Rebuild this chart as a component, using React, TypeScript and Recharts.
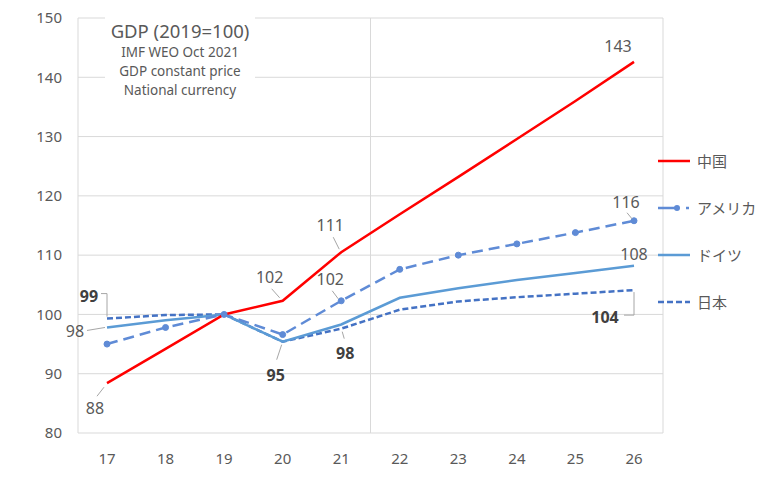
import { LineChart, Line, XAxis, YAxis, CartesianGrid, LabelList } from 'recharts';

// ── Data ───────────────────────────────────────────

const years = ['17', '18', '19', '20', '21', '22', '23', '24', '25', '26'];
const china = [88.4, 94.2, 100, 102.3, 110.5, 116.9, 123.2, 129.6, 136.0, 142.6];
const america = [95.0, 97.8, 100, 96.6, 102.3, 107.6, 110.0, 111.9, 113.8, 115.8];
const germany = [97.8, 99.0, 100, 95.4, 98.3, 102.8, 104.4, 105.8, 107.0, 108.2];
const japan = [99.3, 99.9, 100, 95.4, 97.6, 100.8, 102.2, 102.9, 103.5, 104.1];
const yTicks = [80, 90, 100, 110, 120, 130, 140, 150];

const seriesNames = ['中国', 'アメリカ', 'ドイツ', '日本'];
const titleLines = ['GDP (2019=100)', 'IMF WEO Oct 2021', 'GDP constant price', 'National currency'];

const data = years.map((y, i) => ({
  year: y,
  china: china[i],
  america: america[i],
  germany: germany[i],
  japan: japan[i],
}));

// ── Styles ─────────────────────────────────────────

const FONT = "'Noto Sans', 'Noto Sans CJK JP', sans-serif";
const TEXT = '#595959';
const GRID = '#d9d9d9';
const RED = '#ff0000';
const US = '#5f8bd6';
const DE = '#5b9bd5';
const JP = '#4472c4';

// callout: text centre offset from point, leader polyline offsets
type Callout = { dx: number; dy: number; leader?: number[][] };

const chinaCallouts: Record<number, Callout> = {
  0: { dx: -12, dy: 25, leader: [[-3, 4], [-10, 13]] },
  3: { dx: -13, dy: -24, leader: [[-3, -3], [-11, -12]] },
  4: { dx: -11, dy: -27, leader: [[-2, -3], [-8, -15]] },
  9: { dx: -16, dy: -16 },
};
const americaCallouts: Record<number, Callout> = {
  4: { dx: -11, dy: -22, leader: [[-3, -2], [-9, -10]] },
  9: { dx: -8, dy: -19, leader: [[-2, -2], [-7, -8]] },
};
const germanyCallouts: Record<number, Callout> = {
  0: { dx: -32, dy: 4, leader: [[-2, 0], [-20, 3]] },
  9: { dx: 0, dy: -12 },
};
const japanCallouts: Record<number, Callout> = {
  0: { dx: -18, dy: -23, leader: [[-6, -25], [0, -25], [0, -2]] },
  3: { dx: -7, dy: 33, leader: [[-1, 3], [-6, 18]] },
  4: { dx: 4, dy: 24, leader: [[1, 3], [3, 10]] },
  9: { dx: -29, dy: 27, leader: [[-10, 25], [0, 25], [0, 2]] },
};

function renderCallout(props: any, callouts: Record<number, Callout>, bold: boolean) {
  const { x, y, index, value } = props;
  const c = callouts[index];
  if (!c || x == null || y == null) return null;
  const pts = c.leader?.map(([px, py]) => `${x + px},${y + py}`).join(' ');
  return (
    <g key={`c-${index}`}>
      {pts && <polyline points={pts} fill="none" stroke="#a6a6a6" strokeWidth={1} />}
      <text
        x={x + c.dx}
        y={y + c.dy}
        textAnchor="middle"
        dominantBaseline="central"
        fontFamily={FONT}
        fontSize={16}
        fontWeight={bold ? 700 : 400}
        fill={bold ? '#404040' : TEXT}
      >
        {Math.round(Number(value))}
      </text>
    </g>
  );
}

// ── Legend ─────────────────────────────────────────

function LegendBox() {
  const rows = [161, 208, 255, 302];
  return (
    <svg width={120} height={479} style={{ position: 'absolute', left: 648, top: 0 }}>
      <line x1={10} x2={42} y1={rows[0]} y2={rows[0]} stroke={RED} strokeWidth={2.5} />
      <line x1={10} x2={28} y1={rows[1]} y2={rows[1]} stroke={US} strokeWidth={2.5} />
      <circle cx={29} cy={rows[1]} r={3} fill={US} />
      <line x1={38} x2={41} y1={rows[1]} y2={rows[1]} stroke={US} strokeWidth={2.5} />
      <line x1={10} x2={42} y1={rows[2]} y2={rows[2]} stroke={DE} strokeWidth={2.5} />
      <line x1={10} x2={42} y1={rows[3]} y2={rows[3]} stroke={JP} strokeWidth={2.5} strokeDasharray="6 3" />
      {seriesNames.map((n, i) => (
        <text
          key={n}
          x={49}
          y={rows[i]}
          dominantBaseline="central"
          fontFamily={FONT}
          fontSize={15}
          fill={TEXT}
        >
          {n}
        </text>
      ))}
    </svg>
  );
}

// ── Component ──────────────────────────────────────

export default function App() {
  return (
    <div style={{ position: 'absolute', left: 0, top: 0, width: 768, height: 479, background: '#fff' }}>
      <LineChart
        width={768}
        height={479}
        data={data}
        margin={{ top: 18, right: 105, bottom: 6, left: 18 }}
      >
        <CartesianGrid
          stroke={GRID}
          verticalCoordinatesGenerator={({ offset }: any) => [
            offset.left,
            offset.left + offset.width / 2,
            offset.left + offset.width,
          ]}
        />
        <XAxis
          dataKey="year"
          height={40}
          axisLine={false}
          tickLine={false}
          tickMargin={14}
          padding={{ left: 29, right: 29 }}
          tick={{ fontSize: 15, fill: TEXT, fontFamily: FONT }}
          interval={0}
        />
        <YAxis
          width={60}
          domain={[80, 150]}
          ticks={yTicks}
          axisLine={false}
          tickLine={false}
          tickMargin={10}
          tick={{ fontSize: 15, fill: TEXT, fontFamily: FONT }}
        />
        <Line
          dataKey="japan"
          stroke={JP}
          strokeWidth={2.5}
          strokeDasharray="6 3"
          dot={false}
          isAnimationActive={false}
        >
          <LabelList dataKey="japan" content={(p: any) => renderCallout(p, japanCallouts, true)} />
        </Line>
        <Line
          dataKey="germany"
          stroke={DE}
          strokeWidth={2.5}
          dot={false}
          isAnimationActive={false}
        >
          <LabelList dataKey="germany" content={(p: any) => renderCallout(p, germanyCallouts, false)} />
        </Line>
        <Line
          dataKey="america"
          stroke={US}
          strokeWidth={2.5}
          strokeDasharray="11 6"
          dot={{ r: 3, fill: US, stroke: US, strokeWidth: 1, strokeDasharray: '' }}
          isAnimationActive={false}
        >
          <LabelList dataKey="america" content={(p: any) => renderCallout(p, americaCallouts, false)} />
        </Line>
        <Line
          dataKey="china"
          stroke={RED}
          strokeWidth={2.5}
          dot={false}
          isAnimationActive={false}
        >
          <LabelList dataKey="china" content={(p: any) => renderCallout(p, chinaCallouts, false)} />
        </Line>
      </LineChart>

      <div
        style={{
          position: 'absolute',
          left: 105,
          top: 12,
          width: 150,
          height: 88,
          paddingTop: 7,
          boxSizing: 'border-box',
          background: '#fff',
          textAlign: 'center',
          fontFamily: FONT,
          color: TEXT,
        }}
      >
        <div style={{ fontSize: 18.5, lineHeight: '24px' }}>{titleLines[0]}</div>
        {titleLines.slice(1).map((t) => (
          <div key={t} style={{ fontSize: 13.5, lineHeight: '19px' }}>{t}</div>
        ))}
      </div>

      <LegendBox />
    </div>
  );
}
